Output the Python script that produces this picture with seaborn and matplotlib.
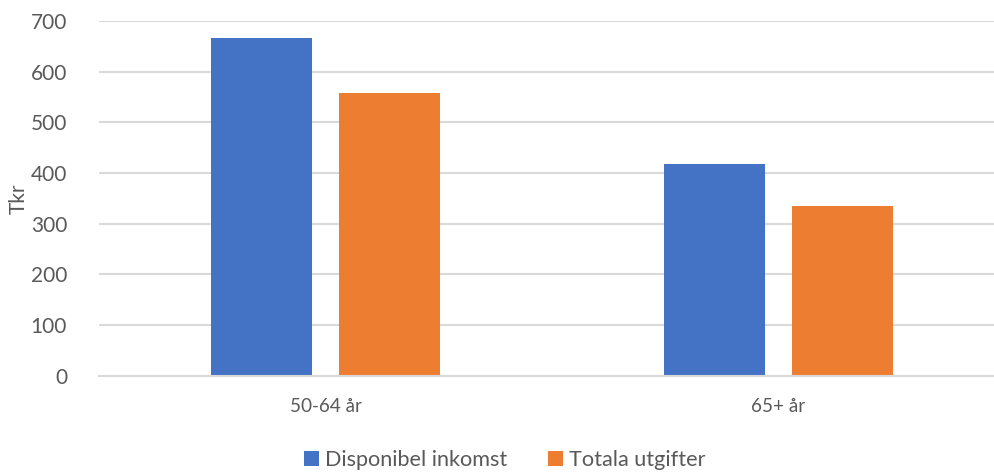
import matplotlib
matplotlib.use("Agg")
import matplotlib.pyplot as plt
import seaborn as sns
import pandas as pd

# Age groups and the two measures (thousand SEK)
age_groups = ["50-64 år", "65+ år"]
series_names = ["Disponibel inkomst", "Totala utgifter"]
disponibel_inkomst = [666, 418]
totala_utgifter = [557, 334]
y_ticks = [0, 100, 200, 300, 400, 500, 600, 700]

df = pd.DataFrame({
    "grupp": age_groups * 2,
    "serie": [series_names[0]] * len(age_groups) + [series_names[1]] * len(age_groups),
    "tkr": disponibel_inkomst + totala_utgifter,
})

sns.set_theme(style="white")
plt.rcParams["font.family"] = ["Lato", "DejaVu Sans"]
text_color = "#595959"
grid_color = "#D9D9D9"

fig = plt.figure(figsize=(9.95, 4.72), dpi=100)
ax = fig.add_axes([99 / 995, 1 - 375.7 / 472, 906 / 995, (375.7 - 21) / 472])

sns.barplot(
    data=df, x="grupp", y="tkr", hue="serie", ax=ax,
    palette=["#4472C4", "#ED7D31"], width=0.5625, gap=0.21,
    saturation=1, linewidth=0,
)

ax.set_ylim(0, 700)
ax.set_xlim(-0.5, 1.5)
ax.set_yticks(y_ticks)
ax.set_yticklabels([str(v) for v in y_ticks])
ax.yaxis.grid(True, color=grid_color, linewidth=1.5)
ax.set_axisbelow(True)
for side in ["top", "right", "left"]:
    ax.spines[side].set_visible(False)
ax.spines["bottom"].set_color(grid_color)
ax.spines["bottom"].set_linewidth(1.5)
ax.tick_params(axis="both", length=0, colors=text_color)
ax.tick_params(axis="y", pad=23, labelsize=15)
ax.tick_params(axis="x", pad=16, labelsize=13.6)
ax.set_xlabel("")
ax.set_ylabel("Tkr", fontsize=15, color=text_color)
ax.yaxis.label.set_verticalalignment("center")
ax.yaxis.set_label_coords((19 - 99) / 906, 0.5)

handles, labels = ax.get_legend_handles_labels()
ax.legend_.remove()
fig.legend(
    handles, labels, loc="center", bbox_to_anchor=(505 / 995, 1 - 460 / 472),
    ncol=2, frameon=False, fontsize=15.6, labelcolor=text_color,
    handlelength=0.65, handleheight=0.65, handletextpad=0.3, columnspacing=1.9,
)

fig.savefig("out.png", dpi=100)
